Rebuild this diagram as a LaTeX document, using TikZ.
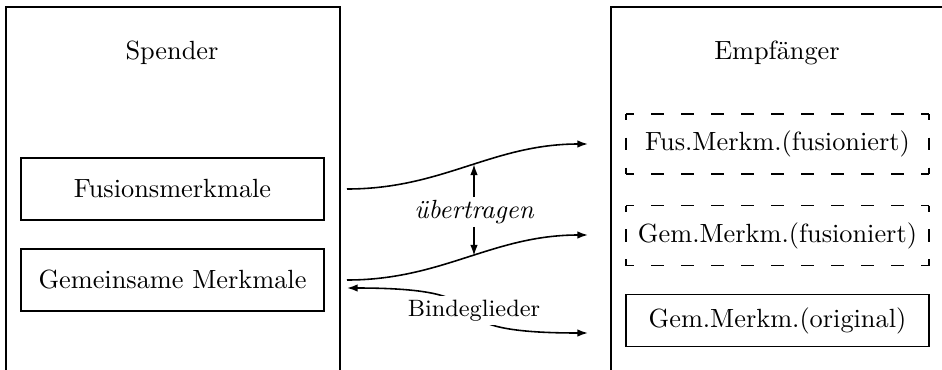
\documentclass[tikz,border=0pt]{standalone}
\usetikzlibrary{arrows.meta}
% one drawing unit
\def\pxu{0.38pt}
\tikzset{
  panel/.style={draw, line width=0.4pt, inner sep=0pt, outer sep=0pt},
  featbox/.style={draw, line width=0.4pt, inner sep=0pt, outer sep=0pt, minimum width=303*\pxu},
  ghostbox/.style={inner sep=0pt, outer sep=0pt, minimum width=303*\pxu, minimum height=60*\pxu},
  dashside/.style={line width=0.4pt, dash pattern=on 4.9pt off 6.5pt, dash phase=#1},
  flow/.style={line width=0.6pt, -{Latex[length=4pt,width=2.8pt]}},
  flowboth/.style={line width=0.6pt, {Latex[length=4pt,width=2.8pt]}-{Latex[length=4pt,width=2.8pt]}},
  vtip/.style={line width=0.4pt, -{Latex[length=4pt,width=2.8pt]}},
}
\begin{document}
\begin{tikzpicture}[x=\pxu, y=-\pxu]
\useasboundingbox (0,0) rectangle (942,369);
\clip (0,0) rectangle (942,369);

% the two parties
\node[panel, minimum width=334*\pxu, minimum height=383*\pxu] (spender) at (173,198.5) {};
\node[panel, minimum width=332*\pxu, minimum height=383*\pxu] (empf) at (777,198.5) {};
\node (spt) at (172,53) {Spender};
\node (empt) at (777,53) {Empfänger};

% features of the donor
\node[featbox, minimum height=62*\pxu] (fus) at (172.5,189) {Fusionsmerkmale};
\node[featbox, minimum height=62*\pxu] (gem) at (172.5,280) {Gemeinsame Merkmale};

% features of the recipient
\node[ghostbox] (dfus) at (777.5,144) {Fus.Merkm.(fusioniert)};
\node[ghostbox] (dgem) at (777.5,235.5) {Gem.Merkm.(fusioniert)};
\node[featbox, minimum height=52*\pxu] (orig) at (777.5,320.5) {Gem.Merkm.(original)};

% dashed outlines, dashes centred on each side
\foreach \b in {dfus,dgem}{
  \draw[dashside=1.88pt] (\b.north west) -- (\b.north east);
  \draw[dashside=1.88pt] (\b.south west) -- (\b.south east);
  \draw[dashside=2.45pt] (\b.north west) -- (\b.south west);
  \draw[dashside=2.45pt] (\b.north east) -- (\b.south east);
}

% connector end points
\coordinate (a1) at (347,189);
\coordinate (b1) at (588,144);
\coordinate (a2) at (347,280);
\coordinate (b2) at (588,235);
\coordinate (a3) at (347,288);
\coordinate (b3) at (588,333);

\draw[flow] (a1) to[out=0,in=180] coordinate[pos=0.53] (m1) (b1);
\draw[flow] (a2) to[out=0,in=180] coordinate[pos=0.53] (m2) (b2);

\node[font=\itshape, inner sep=1pt] (ueb) at (474,212) {übertragen};
\draw[vtip] (ueb.north) -- (ueb.north |- m1);
\draw[vtip] (ueb.south) -- (ueb.south |- m2);

\draw[flowboth] (a3) to[out=0,in=180,looseness=1.9]
  node[pos=0.5, fill=white, inner sep=1.5pt, font=\small, xshift=6.5*\pxu] (bind) {Bindeglieder} (b3);
\end{tikzpicture}
\end{document}
